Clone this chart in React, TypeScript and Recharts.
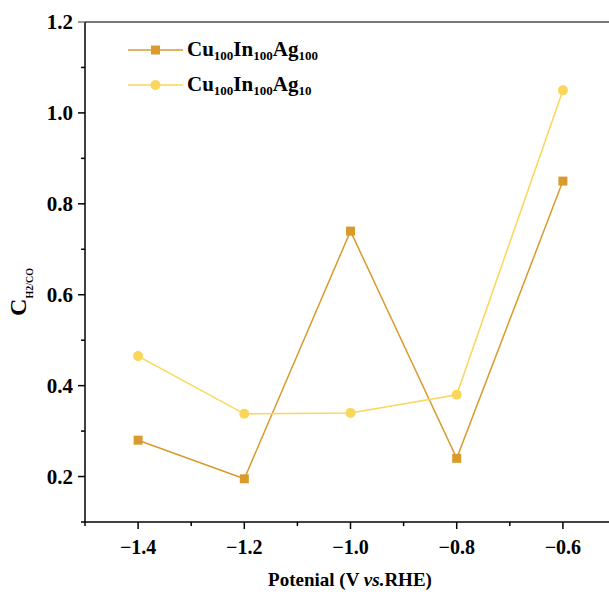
import React from 'react';
import {
  LineChart,
  Line,
  XAxis,
  YAxis,
  ReferenceLine,
} from 'recharts';

const potentials = [-1.4, -1.2, -1.0, -0.8, -0.6];
const ag100 = [0.28, 0.195, 0.74, 0.24, 0.85];
const ag10 = [0.465, 0.338, 0.34, 0.38, 1.05];

const xTicks = [-1.5, -1.4, -1.3, -1.2, -1.1, -1.0, -0.9, -0.8, -0.7, -0.6, -0.5];
const xLabels = ['−1.4', '−1.2', '−1.0', '−0.8', '−0.6'];
const yTicks = [0.1, 0.2, 0.3, 0.4, 0.5, 0.6, 0.7, 0.8, 0.9, 1.0, 1.1, 1.2];
const yLabels = ['0.2', '0.4', '0.6', '0.8', '1.0', '1.2'];

const SQUARE_COLOR = '#D99A2E';
const CIRCLE_COLOR = '#FAD65A';
const FONT = '"Liberation Serif", "Times New Roman", serif';

const data = potentials.map((p, i) => ({ p, a: ag100[i], b: ag10[i] }));

const fmtX = (v: number) => (v < 0 ? '−' : '') + Math.abs(v).toFixed(1);
const fmtY = (v: number) => v.toFixed(1);

const XTick = (props: any) => {
  const { x, y, payload } = props;
  const label = fmtX(payload.value);
  const major = xLabels.includes(label);
  return (
    <g>
      <line x1={x} x2={x} y1={y} y2={y + (major ? 7 : 4)} stroke="#000" strokeWidth={1.5} />
      {major && (
        <text x={x} y={y + 32} textAnchor="middle" fontFamily={FONT} fontWeight="bold" fontSize={20} fill="#000">
          {label}
        </text>
      )}
    </g>
  );
};

const YTick = (props: any) => {
  const { x, y, payload } = props;
  const label = fmtY(payload.value);
  const major = yLabels.includes(label);
  const top = label === '1.2';
  return (
    <g>
      <line x1={x} x2={x - (major ? 7 : 4)} y1={y} y2={y} stroke={top ? '#777' : '#000'} strokeWidth={1.5} />
      {major && (
        <text x={x - 12} y={y + 7} textAnchor="end" fontFamily={FONT} fontWeight="bold" fontSize={21} fill="#000">
          {label}
        </text>
      )}
    </g>
  );
};

const SquareDot = (props: any) => {
  const { cx, cy } = props;
  if (cx == null || cy == null) return null;
  return <rect x={cx - 4.5} y={cy - 4.5} width={9} height={9} fill={SQUARE_COLOR} />;
};

const legendItems = [
  { color: SQUARE_COLOR, shape: 'square', sub: '100' },
  { color: CIRCLE_COLOR, shape: 'circle', sub: '10' },
];

// legend and axis titles drawn over the chart
const Overlay = () => (
  <svg width={609} height={599} style={{ position: 'absolute', left: 0, top: 0, pointerEvents: 'none' }}>
    {legendItems.map((it, i) => {
      const y = 50 + i * 35;
      return (
        <g key={i}>
          <line x1={128} x2={183} y1={y} y2={y} stroke={it.color} strokeWidth={1.5} />
          {it.shape === 'square' ? (
            <rect x={151} y={y - 4.5} width={9} height={9} fill={it.color} />
          ) : (
            <circle cx={155.5} cy={y} r={5} fill={it.color} />
          )}
          <text x={187} y={y + 6} fontFamily={FONT} fontWeight="bold" fontSize={21} fill="#000">
            Cu<tspan fontSize={13} dy={4}>100</tspan>
            <tspan dy={-4}>In</tspan>
            <tspan fontSize={13} dy={4}>100</tspan>
            <tspan dy={-4}>Ag</tspan>
            <tspan fontSize={13} dy={4}>{it.sub}</tspan>
          </text>
        </g>
      );
    })}
    <g transform="translate(26 292) rotate(-90)">
      <text x={0} y={0} textAnchor="middle" fontFamily={FONT} fontWeight="bold" fontSize={24} fill="#000">
        C<tspan fontSize={10} dy={7}>H2/CO</tspan>
      </text>
    </g>
    <text x={350} y={586} textAnchor="middle" fontFamily={FONT} fontWeight="bold" fontSize={19} fill="#000">
      Potenial (V <tspan fontStyle="italic">vs.</tspan>RHE)
    </text>
  </svg>
);

export default function App() {
  return (
    <div style={{ position: 'absolute', left: 0, top: 0, width: 609, height: 599, overflow: 'hidden', background: '#fff' }}>
      <LineChart width={640} height={599} data={data} margin={{ top: 22, right: 24, left: 35, bottom: 0 }}>
        <XAxis
          dataKey="p"
          type="number"
          domain={[-1.5, -0.5]}
          ticks={xTicks}
          tick={<XTick />}
          tickLine={false}
          tickSize={0}
          tickMargin={0}
          height={77}
          stroke="#000"
          strokeWidth={1.5}
          interval={0}
        />
        <YAxis
          type="number"
          domain={[0.1, 1.2]}
          ticks={yTicks}
          tick={<YTick />}
          tickLine={false}
          tickSize={0}
          tickMargin={0}
          width={50}
          stroke="#000"
          strokeWidth={1.5}
          interval={0}
        />
        <ReferenceLine y={1.2} stroke="#777" strokeWidth={2} />
        <Line
          dataKey="a"
          stroke={SQUARE_COLOR}
          strokeWidth={1.5}
          dot={<SquareDot />}
          activeDot={false}
          isAnimationActive={false}
        />
        <Line
          dataKey="b"
          stroke={CIRCLE_COLOR}
          strokeWidth={1.5}
          dot={{ r: 5, fill: CIRCLE_COLOR, stroke: 'none' }}
          activeDot={false}
          isAnimationActive={false}
        />
      </LineChart>
      <Overlay />
    </div>
  );
}
